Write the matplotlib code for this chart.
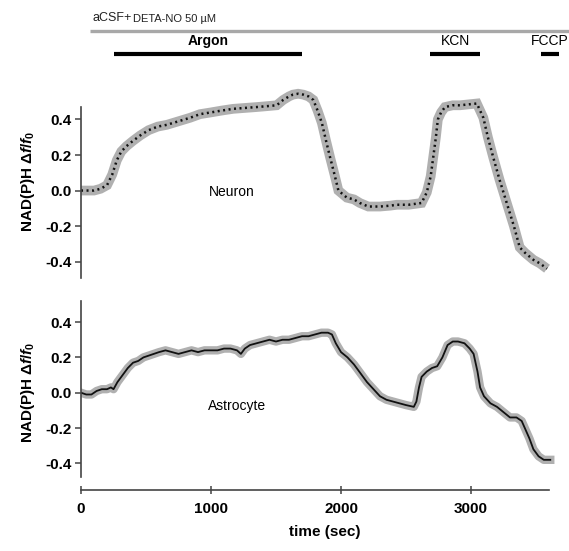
import matplotlib
matplotlib.use('Agg')
import matplotlib.pyplot as plt

plt.rcParams['font.family'] = ['Liberation Sans', 'DejaVu Sans']
plt.rcParams['mathtext.fontset'] = 'custom'
plt.rcParams['mathtext.it'] = 'Liberation Sans:italic:bold'
plt.rcParams['mathtext.rm'] = 'Liberation Sans:bold'
plt.rcParams['mathtext.bf'] = 'Liberation Sans:bold'

# neuron trace (time in s, NAD(P)H df/f0)
neuron_t = [0, 50, 100, 150, 200, 240, 275, 310, 350, 400, 455, 520, 590, 660, 750, 840, 915,
            1000, 1080, 1170, 1260, 1350, 1430, 1505, 1555, 1600, 1630, 1670, 1710, 1750, 1787,
            1820, 1853, 1885, 1915, 1950, 1980, 2045, 2100, 2145, 2210, 2300, 2380, 2430, 2520,
            2620, 2660, 2690, 2710, 2730, 2745, 2770, 2800, 2860, 2915, 2980, 3045, 3095, 3130,
            3170, 3220, 3275, 3330, 3375, 3415, 3480, 3530, 3585]
neuron_y = [0.0, 0.0, 0.0, 0.01, 0.03, 0.09, 0.17, 0.22, 0.25, 0.28, 0.31, 0.34, 0.36, 0.37,
            0.39, 0.41, 0.43, 0.44, 0.45, 0.46, 0.465, 0.47, 0.475, 0.48, 0.51, 0.53, 0.54, 0.545,
            0.54, 0.53, 0.51, 0.45, 0.38, 0.28, 0.19, 0.09, 0.0, -0.04, -0.05, -0.07, -0.09,
            -0.09, -0.085, -0.08, -0.08, -0.07, -0.01, 0.08, 0.19, 0.30, 0.40, 0.44, 0.47, 0.48,
            0.48, 0.485, 0.49, 0.41, 0.30, 0.19, 0.06, -0.07, -0.20, -0.32, -0.35, -0.39, -0.41,
            -0.44]

# astrocyte trace
astro_t = [0, 40, 80, 120, 160, 200, 230, 250, 280, 320, 360, 400, 440, 480, 520, 560, 600,
           650, 700, 750, 800, 850, 900, 950, 1000, 1050, 1100, 1150, 1200, 1230, 1260, 1300,
           1350, 1400, 1450, 1500, 1550, 1600, 1650, 1700, 1750, 1800, 1850, 1900, 1930, 1960,
           2000, 2050, 2100, 2150, 2200, 2250, 2300, 2350, 2400, 2450, 2500, 2560, 2580, 2600,
           2620, 2660, 2700, 2740, 2780, 2820, 2860, 2900, 2950, 2990, 3020, 3050, 3070, 3100,
           3150, 3200, 3250, 3300, 3350, 3390, 3420, 3450, 3480, 3520, 3560, 3610]
astro_y = [0.0, -0.01, -0.01, 0.01, 0.02, 0.02, 0.03, 0.02, 0.06, 0.10, 0.14, 0.17, 0.18, 0.20,
           0.21, 0.22, 0.23, 0.24, 0.23, 0.22, 0.23, 0.24, 0.23, 0.24, 0.24, 0.24, 0.25, 0.25,
           0.24, 0.22, 0.25, 0.27, 0.28, 0.29, 0.30, 0.29, 0.30, 0.30, 0.31, 0.32, 0.32, 0.33,
           0.34, 0.34, 0.33, 0.28, 0.23, 0.20, 0.16, 0.11, 0.06, 0.02, -0.02, -0.04, -0.05, -0.06,
           -0.07, -0.08, -0.05, 0.03, 0.09, 0.12, 0.14, 0.15, 0.20, 0.27, 0.29, 0.29, 0.28, 0.25,
           0.22, 0.12, 0.03, -0.02, -0.06, -0.08, -0.11, -0.14, -0.14, -0.16, -0.21, -0.26, -0.32,
           -0.36, -0.38, -0.38]

y_ticks = [-0.4, -0.2, 0.0, 0.2, 0.4]
x_ticks = [0, 1000, 2000, 3000]

# treatment bars: (label, start, end)
treatments = [('Argon', 250, 1700), ('KCN', 2685, 3070), ('FCCP', 3535, 3677)]

fig = plt.figure(figsize=(5.69, 5.51), dpi=100)
ax1 = fig.add_axes([0.1424, 0.493, 0.8576, 0.3546])
ax2 = fig.add_axes([0.1424, 0.111, 0.8576, 0.3525])

ylab = 'NAD(P)H $\\mathit{\\Delta f/f_0}$'

for ax in (ax1, ax2):
    ax.set_xlim(0, 3754)
    for s in ['top', 'right']:
        ax.spines[s].set_visible(False)
    ax.spines['left'].set_color('#444444')
    ax.spines['left'].set_linewidth(1.2)
    ax.set_yticks(y_ticks)
    ax.set_yticklabels(['%.1f' % v for v in y_ticks], fontsize=11, fontweight='bold')
    ax.tick_params(axis='y', direction='out', length=4, width=1.1, color='#444444', pad=3)
    ax.set_ylabel(ylab, fontsize=11, fontweight='bold', labelpad=6)

# top panel
ax1.set_ylim(-0.5, 0.6)
ax1.spines['left'].set_bounds(-0.49, 0.47)
ax1.spines['bottom'].set_visible(False)
ax1.set_xticks([])
ax1.plot(neuron_t, neuron_y, color='#b0b0b0', lw=7, solid_capstyle='butt', solid_joinstyle='miter', clip_on=False)
ax1.plot(neuron_t, neuron_y, color='#111111', lw=1.8, linestyle=(0, (0.8, 1.4)), clip_on=False)
ax1.text(1160, -0.01, 'Neuron', fontsize=10, ha='center', va='center')

# treatment annotations above the top panel
ax1.plot([69, 3754], [0.90, 0.90], color='#a8a8a8', lw=2.4, clip_on=False, solid_capstyle='butt')
t_acsf = ax1.text(90, 0.935, 'aCSF+', fontsize=9, ha='left', va='bottom', color='#222222')
ax1.annotate('DETA-NO 50 \u00b5M', xy=(1, 0), xycoords=t_acsf, xytext=(1, 0),
             textcoords='offset points', fontsize=8, ha='left', va='bottom', color='#222222')
for name, t0, t1 in treatments:
    ax1.plot([t0, t1], [0.77, 0.77], color='black', lw=3, clip_on=False, solid_capstyle='butt')
    fw = 'bold' if name == 'Argon' else 'normal'
    ax1.text((t0 + t1) / 2, 0.80, name, fontsize=10, fontweight=fw, ha='center', va='bottom')

# bottom panel
ax2.set_ylim(-0.55, 0.55)
ax2.spines['left'].set_bounds(-0.48, 0.52)
ax2.spines['bottom'].set_bounds(0, 3600)
ax2.spines['bottom'].set_color('#444444')
ax2.spines['bottom'].set_linewidth(1.2)
ax2.plot(astro_t, astro_y, color='#b0b0b0', lw=6, solid_joinstyle='round')
ax2.plot(astro_t, astro_y, color='#111111', lw=1.3)
ax2.text(1200, -0.075, 'Astrocyte', fontsize=10, ha='center', va='center')
ax2.set_xticks(x_ticks)
ax2.set_xticklabels([str(v) for v in x_ticks], fontsize=11, fontweight='bold')
ax2.tick_params(axis='x', direction='inout', length=6, width=1.1, color='#444444', pad=6)
ax2.set_xlabel('time (sec)', fontsize=11, fontweight='bold', labelpad=6)

fig.savefig('out.png', dpi=100)
